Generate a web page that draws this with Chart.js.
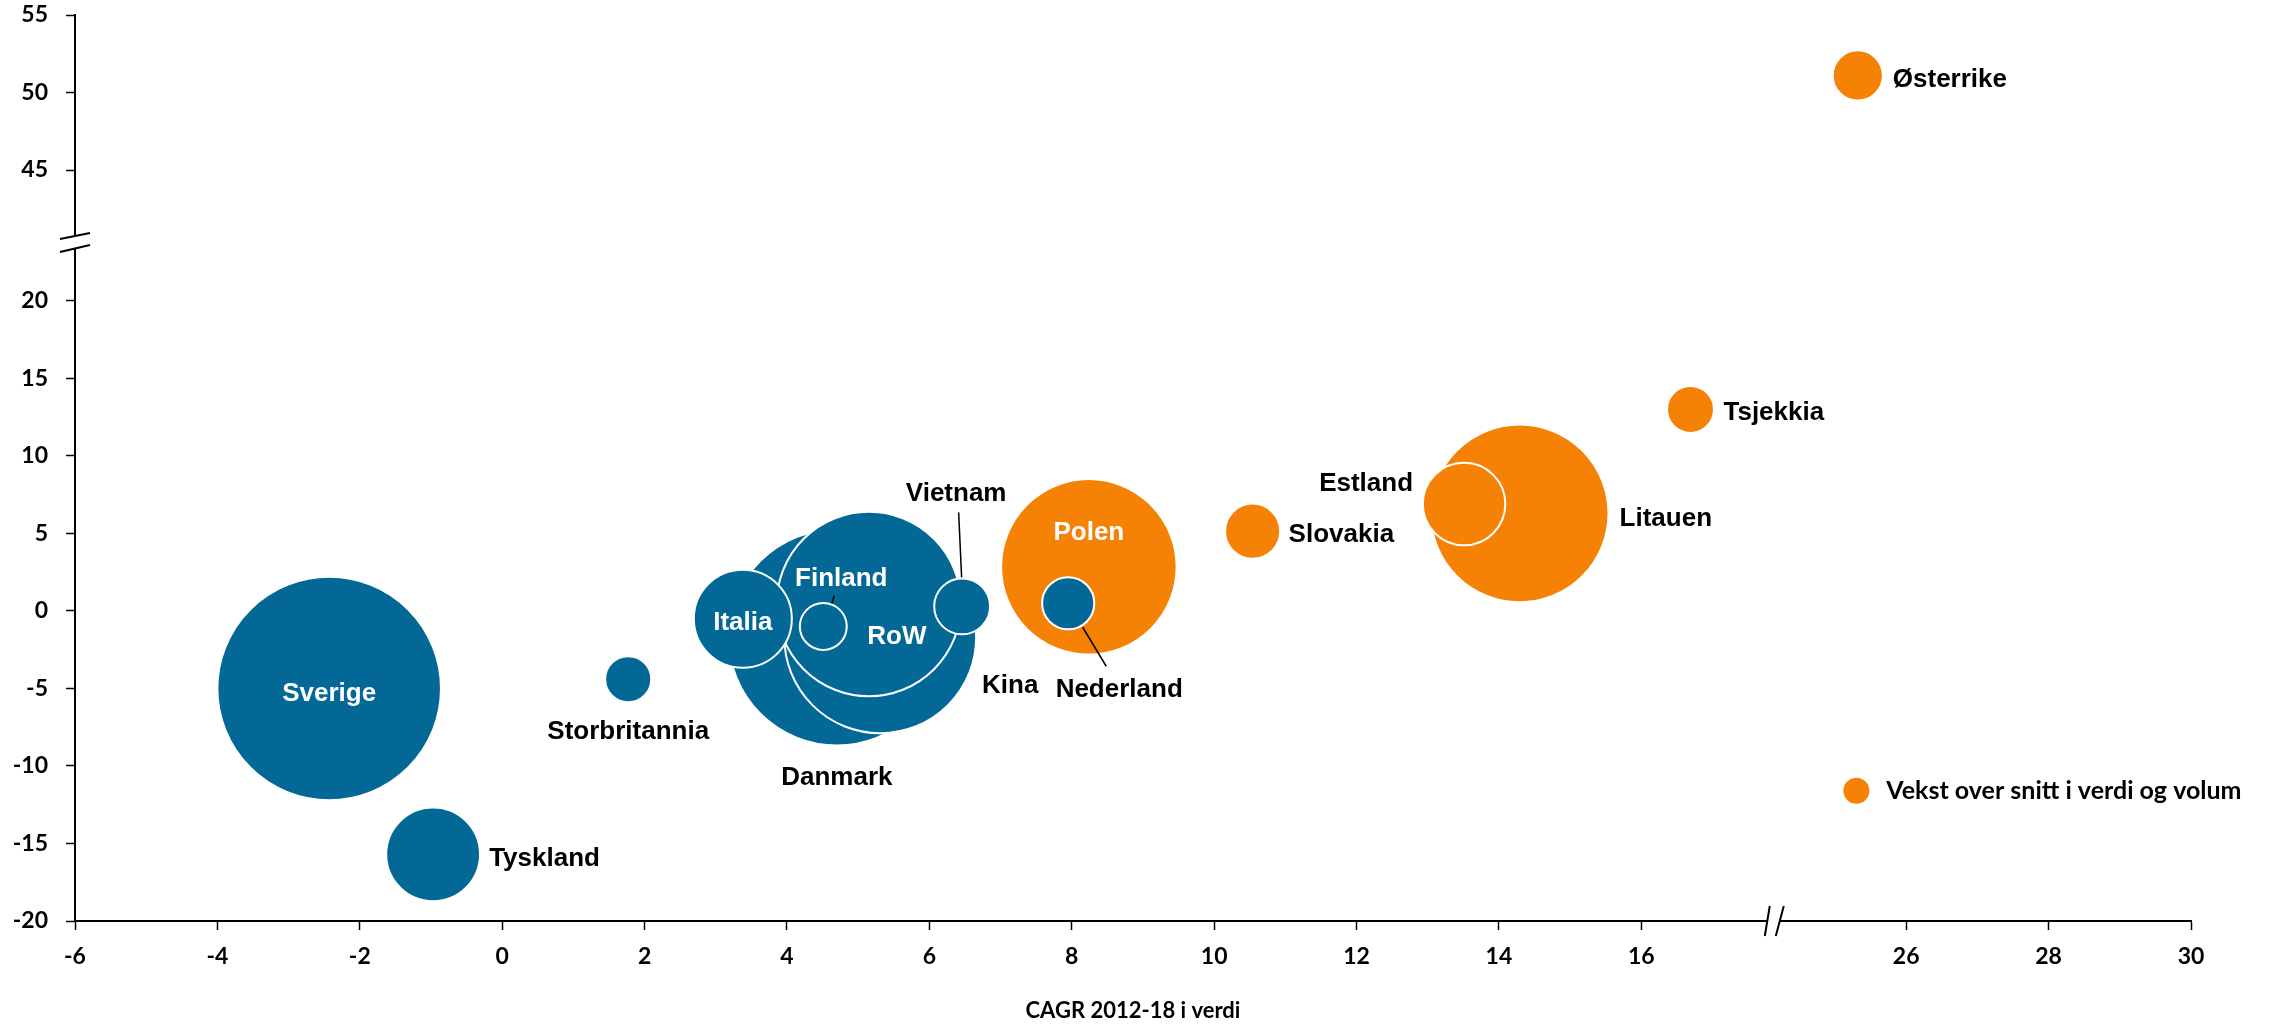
<!DOCTYPE html>
<html>
<head>
<meta charset="utf-8">
<script src="https://cdn.jsdelivr.net/npm/chart.js@4.4.0/dist/chart.umd.min.js"></script>
<style>
html, body { margin: 0; padding: 0; background: #fff; }
#wrap { width: 2272px; height: 1024px; position: relative; }
</style>
</head>
<body>
<div id="wrap"><canvas id="chart"></canvas></div>
<script>
// Country data: CAGR in value (x), CAGR in volume (y), market size (bubble area)
// Order = draw order (back to front)
const countries = ['Danmark', 'Kina', 'RoW', 'Italia', 'Finland', 'Vietnam', 'Sverige', 'Tyskland',
    'Storbritannia', 'Polen', 'Nederland', 'Slovakia', 'Litauen', 'Estland', 'Tsjekkia', 'Østerrike'];
const valueGrowth = [4.70, 5.31, 5.15, 3.38, 4.51, 6.46, -2.43, -0.97, 1.77, 8.24, 7.95, 10.54, 14.29, 13.51, 16.69, 25.32];
const volumeGrowth = [-1.7, -1.7, 0.45, -0.5, -1.0, 0.3, -5.0, -15.7, -4.4, 2.85, 0.5, 5.15, 6.3, 6.9, 13.0, 51.1];
const marketSize = [117, 92, 85, 24, 5.5, 7.8, 125, 22, 5.3, 77, 6.8, 7.6, 79, 17, 5.5, 6.3];
const aboveAverage = [false, false, false, false, false, false, false, false,
    false, true, false, true, true, true, true, true];

const xTicks = [-6, -4, -2, 0, 2, 4, 6, 8, 10, 12, 14, 16, 26, 28, 30];
const yTicks = [-20, -15, -10, -5, 0, 5, 10, 15, 20, 45, 50, 55];
const xTitle = 'CAGR 2012-18 i verdi';
const legendText = 'Vekst over snitt i verdi og volum';
const legendAt = [25.3, -11.6];

const BLUE = '#046897';
const ORANGE = '#F58205';

// Broken axes: values beyond the break are shifted down the axis
const X_GAP = 6.28;
const Y_GAP = 16.55;
const X_BREAK = 17.86;
const Y_BREAK = 23.8;
function toAxisX(v) { return v >= 20 ? v - X_GAP : v; }
function fromAxisX(v) { return v > X_BREAK ? v + X_GAP : v; }
function toAxisY(v) { return v >= 30 ? v - Y_GAP : v; }
function fromAxisY(v) { return v > Y_BREAK ? v + Y_GAP : v; }

// Label placement relative to the bubble centre (pixels)
const labelStyle = {
    'Sverige': { dx: 0, dy: 5, align: 'center', color: '#fff' },
    'Tyskland': { dx: 56, dy: 4, align: 'left' },
    'Storbritannia': { dx: 0, dy: 53, align: 'center' },
    'Italia': { dx: 0, dy: 4, align: 'center', color: '#fff' },
    'Danmark': { dx: 0, dy: 140, align: 'center' },
    'Kina': { dx: 130, dy: 48, align: 'center' },
    'RoW': { dx: 28, dy: 33, align: 'center', color: '#fff' },
    'Finland': { dx: 18, dy: -48, align: 'center', color: '#fff', line: [11, -31, 8.5, -23] },
    'Vietnam': { dx: -6, dy: -113, align: 'center', line: [-3.5, -94, -0.5, -29] },
    'Polen': { dx: 0, dy: -34, align: 'center', color: '#fff' },
    'Nederland': { dx: 51, dy: 87, align: 'center', line: [14.5, 24, 38, 63] },
    'Slovakia': { dx: 36, dy: 4, align: 'left' },
    'Estland': { dx: -51, dy: -20, align: 'right' },
    'Litauen': { dx: 100, dy: 5, align: 'left' },
    'Tsjekkia': { dx: 33, dy: 3, align: 'left' },
    'Østerrike': { dx: 35, dy: 4, align: 'left' }
};

// bubbles should not push the axes inwards
Chart.registry.getController('bubble').prototype.getMaxOverflow = function() { return false; };

const bubbleLabels = {
    id: 'bubbleLabels',
    afterDatasetsDraw(chart) {
        const ctx = chart.ctx;
        const meta = chart.getDatasetMeta(0);
        ctx.save();
        ctx.font = 'bold 26px "Liberation Sans", Arial, sans-serif';
        ctx.textBaseline = 'middle';
        meta.data.forEach((pt, i) => {
            const st = labelStyle[countries[i]];
            if (!st) return;
            if (st.line) {
                ctx.strokeStyle = '#000';
                ctx.lineWidth = 1.5;
                ctx.beginPath();
                ctx.moveTo(pt.x + st.line[0], pt.y + st.line[1]);
                ctx.lineTo(pt.x + st.line[2], pt.y + st.line[3]);
                ctx.stroke();
            }
            ctx.fillStyle = st.color || '#000';
            ctx.textAlign = st.align;
            ctx.fillText(countries[i], pt.x + st.dx, pt.y + st.dy);
        });
        ctx.restore();
    }
};

const axisBreaks = {
    id: 'axisBreaks',
    afterDraw(chart) {
        const ctx = chart.ctx;
        const xs = chart.scales.x, ys = chart.scales.y;
        ctx.save();
        ctx.lineWidth = 2;
        ctx.strokeStyle = '#000';
        // x axis break
        const bx = xs.getPixelForValue(X_BREAK), ay = xs.top;
        ctx.fillStyle = '#fff';
        ctx.beginPath();
        ctx.moveTo(bx - 9, ay + 15); ctx.lineTo(bx - 4, ay - 15);
        ctx.lineTo(bx + 10, ay - 15); ctx.lineTo(bx + 2, ay + 15);
        ctx.closePath();
        ctx.fill();
        ctx.beginPath();
        ctx.moveTo(bx - 9, ay + 15); ctx.lineTo(bx - 4, ay - 15);
        ctx.moveTo(bx + 2, ay + 15); ctx.lineTo(bx + 10, ay - 15);
        ctx.stroke();
        // y axis break
        const by = ys.getPixelForValue(Y_BREAK), ax = ys.right;
        ctx.beginPath();
        ctx.moveTo(ax - 15, by - 3); ctx.lineTo(ax + 15, by - 9);
        ctx.lineTo(ax + 15, by + 3); ctx.lineTo(ax - 15, by + 10);
        ctx.closePath();
        ctx.fill();
        ctx.beginPath();
        ctx.moveTo(ax - 15, by - 3); ctx.lineTo(ax + 15, by - 9);
        ctx.moveTo(ax - 15, by + 10); ctx.lineTo(ax + 15, by + 3);
        ctx.stroke();
        ctx.restore();
    }
};

const floatLegend = {
    id: 'floatLegend',
    afterDraw(chart) {
        const ctx = chart.ctx;
        const px = chart.scales.x.getPixelForValue(toAxisX(legendAt[0]));
        const py = chart.scales.y.getPixelForValue(legendAt[1]);
        ctx.save();
        ctx.fillStyle = ORANGE;
        ctx.beginPath();
        ctx.arc(px, py, 13, 0, Math.PI * 2);
        ctx.fill();
        ctx.fillStyle = '#000';
        ctx.font = 'bold 25px Lato, sans-serif';
        ctx.textAlign = 'left';
        ctx.textBaseline = 'middle';
        ctx.fillText(legendText, px + 30, py);
        ctx.restore();
    }
};

const tickFont = { family: 'Lato, sans-serif', size: 23, weight: 'bold' };

new Chart(document.getElementById('chart'), {
    type: 'bubble',
    data: {
        datasets: [{
            label: 'Land',
            data: countries.map((c, i) => ({
                x: toAxisX(valueGrowth[i]),
                y: toAxisY(volumeGrowth[i]),
                r: 10 * Math.sqrt(marketSize[i])
            })),
            backgroundColor: aboveAverage.map(a => a ? ORANGE : BLUE),
            borderColor: '#ffffff',
            borderWidth: 2,
            hoverBorderWidth: 2,
            hoverRadius: 0,
            clip: false
        }]
    },
    options: {
        responsive: true,
        maintainAspectRatio: false,
        animation: false,
        layout: { padding: { top: 15, right: 81, left: 0, bottom: 0 } },
        plugins: {
            legend: { display: false },
            tooltip: {
                callbacks: {
                    label: (c) => `${countries[c.dataIndex]}: ${valueGrowth[c.dataIndex]}, ${volumeGrowth[c.dataIndex]}`
                }
            }
        },
        scales: {
            x: {
                type: 'linear',
                min: -6,
                max: toAxisX(30),
                afterBuildTicks: (s) => { s.ticks = xTicks.map(v => ({ value: toAxisX(v) })); },
                afterFit: (s) => { s.height = 103; },
                ticks: {
                    callback: (v) => String(Math.round(fromAxisX(v))),
                    font: tickFont,
                    color: '#000',
                    padding: 13,
                    maxRotation: 0,
                    autoSkip: false
                },
                grid: { drawOnChartArea: false, tickLength: 9, tickColor: '#000', tickWidth: 1.5 },
                border: { color: '#000', width: 2 },
                title: {
                    display: true,
                    text: xTitle,
                    color: '#000',
                    font: { family: 'Lato, sans-serif', size: 22, weight: 'bold' },
                    padding: { top: 0, bottom: 0 }
                }
            },
            y: {
                type: 'linear',
                min: -20,
                max: toAxisY(55),
                afterBuildTicks: (s) => { s.ticks = yTicks.map(v => ({ value: toAxisY(v) })); },
                afterFit: (s) => { s.width = 75; s.paddingTop = 0; s.paddingBottom = 0; },
                ticks: {
                    callback: (v) => String(Math.round(fromAxisY(v))),
                    font: tickFont,
                    color: '#000',
                    padding: 18,
                    autoSkip: false
                },
                grid: { drawOnChartArea: false, tickLength: 9, tickColor: '#000', tickWidth: 1.5 },
                border: { color: '#000', width: 2 }
            }
        }
    },
    plugins: [bubbleLabels, axisBreaks, floatLegend]
});
</script>
</body>
</html>
